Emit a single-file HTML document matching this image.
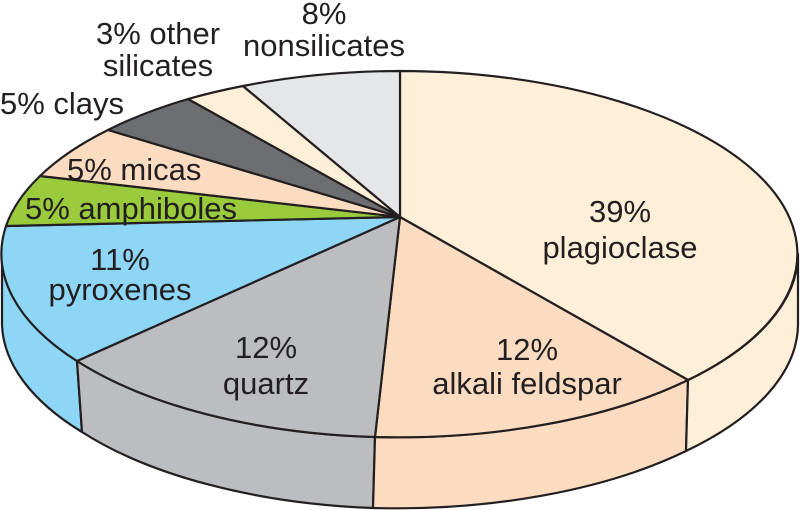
<!DOCTYPE html>
<html><head><style>body{margin:0;background:#fff}svg{display:block}text{font-family:"Liberation Sans",sans-serif;font-size:31px;fill:#231f20}</style></head>
<body>
<svg width="800" height="510" viewBox="0 0 800 510">
<g stroke="#231f20" stroke-width="2.2" stroke-linejoin="round">
<path d="M2 254 A398 183 0 0 0 77 361 L82 432 A398 183 0 0 1 2 325 Z" fill="#8dd6f6"/>
<path d="M77 361 A398 183 0 0 0 375 437 L373 508 A398 183 0 0 1 82 432 Z" fill="#bcbdc0"/>
<path d="M375 437 A398 183 0 0 0 688 380 L686 451 A398 183 0 0 1 373 508 Z" fill="#fcdcc0"/>
<path d="M688 380 A398 183 0 0 0 798 254 L798 325 A398 183 0 0 1 686 451 Z" fill="#fdefd8"/>
<path d="M400 217 L400 71 A398 183 0 0 1 688 380 Z" fill="#fdefd8"/>
<path d="M400 217 L688 380 A398 183 0 0 1 375 437 Z" fill="#fcdcc0"/>
<path d="M400 217 L375 437 A398 183 0 0 1 77 361 Z" fill="#bcbdc0"/>
<path d="M400 217 L77 361 A398 183 0 0 1 6 226 Z" fill="#8dd6f6"/>
<path d="M400 217 L6 226 A398 183 0 0 1 40 176 Z" fill="#9acb3c"/>
<path d="M400 217 L40 176 A398 183 0 0 1 108 130 Z" fill="#fcdcc0"/>
<path d="M400 217 L108 130 A398 183 0 0 1 188 99 Z" fill="#6d6e71"/>
<path d="M400 217 L188 99 A398 183 0 0 1 243 86 Z" fill="#fdefd8"/>
<path d="M400 217 L243 86 A398 183 0 0 1 400 71 Z" fill="#e5e6e8"/>
</g>
<g text-anchor="middle">
<text x="620" y="222">39%</text><text x="620" y="258">plagioclase</text>
<text x="527" y="360">12%</text><text x="527" y="394">alkali feldspar</text>
<text x="266" y="358">12%</text><text x="266" y="394">quartz</text>
<text x="120" y="270">11%</text><text x="120" y="300">pyroxenes</text>
<text x="324" y="24">8%</text><text x="324" y="56">nonsilicates</text>
<text x="158" y="44">3% other</text><text x="158" y="76">silicates</text>
</g>
<text x="25" y="219">5% amphiboles</text>
<text x="67" y="180">5% micas</text>
<text x="0" y="114">5% clays</text>
</svg>
</body></html>
